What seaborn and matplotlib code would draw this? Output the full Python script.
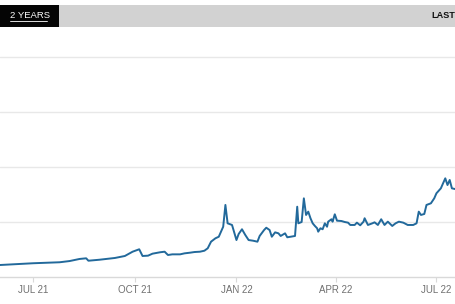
import numpy as np
import pandas as pd
import matplotlib
matplotlib.use("Agg")
import matplotlib.pyplot as plt
import seaborn as sns
from matplotlib.patches import Rectangle
from matplotlib.lines import Line2D

# ---- data ----
dates = [
    "2021-06-01", "2021-07-01", "2021-07-25", "2021-08-03", "2021-08-12", "2021-08-18",
    "2021-08-20", "2021-08-30", "2021-09-13", "2021-09-22", "2021-09-29", "2021-10-05",
    "2021-10-08", "2021-10-13", "2021-10-17", "2021-10-24", "2021-10-28", "2021-10-31",
    "2021-11-04", "2021-11-11", "2021-11-15", "2021-11-20", "2021-11-24", "2021-11-29",
    "2021-12-03", "2021-12-06", "2021-12-09", "2021-12-13", "2021-12-16", "2021-12-20",
    "2021-12-22", "2021-12-24", "2021-12-28", "2022-01-01", "2022-01-03", "2022-01-06",
    "2022-01-09", "2022-01-12", "2022-01-16", "2022-01-20", "2022-01-22", "2022-01-26",
    "2022-01-28", "2022-01-31", "2022-02-02", "2022-02-05", "2022-02-08", "2022-02-10",
    "2022-02-14", "2022-02-16", "2022-02-19", "2022-02-23", "2022-02-25", "2022-02-26",
    "2022-03-01", "2022-03-03", "2022-03-05", "2022-03-07", "2022-03-09", "2022-03-11",
    "2022-03-13", "2022-03-15", "2022-03-16", "2022-03-18", "2022-03-20", "2022-03-22",
    "2022-03-24", "2022-03-25", "2022-03-28", "2022-03-29", "2022-03-31", "2022-04-02",
    "2022-04-06", "2022-04-09", "2022-04-12", "2022-04-14", "2022-04-18", "2022-04-20",
    "2022-04-23", "2022-04-26", "2022-04-27", "2022-04-30", "2022-05-04", "2022-05-06",
    "2022-05-09", "2022-05-12", "2022-05-15", "2022-05-18", "2022-05-22", "2022-05-25",
    "2022-05-28", "2022-06-01", "2022-06-05", "2022-06-10", "2022-06-13", "2022-06-15",
    "2022-06-17", "2022-06-20", "2022-06-22", "2022-06-26", "2022-06-29", "2022-07-01",
    "2022-07-05", "2022-07-07", "2022-07-09", "2022-07-11", "2022-07-13", "2022-07-15",
    "2022-07-19",
]
values = [
    10.9, 12.5, 13.4, 14.5, 16.4, 17.0,
    14.8, 15.7, 17.3, 19.1, 23.0, 25.2,
    19.1, 19.4, 21.2, 22.5, 23.0, 20.0,
    20.6, 20.6, 21.5, 22.1, 22.7, 23.0,
    23.9, 26.1, 32.1, 35.2, 36.6, 45.7,
    65.5, 48.8, 47.3, 33.6, 39.1, 43.4,
    38.2, 33.6, 33.0, 32.1, 37.3, 42.7,
    44.8, 42.7, 36.6, 40.6, 39.7, 37.3,
    39.7, 36.1, 36.6, 37.3, 63.9, 48.8,
    50.0, 71.5, 56.4, 59.4, 53.4, 48.8,
    46.4, 44.3, 41.2, 44.3, 43.4, 48.8,
    45.7, 50.3, 52.5, 50.3, 57.0, 51.2,
    50.9, 50.0, 49.4, 47.3, 47.3, 49.4,
    47.0, 50.3, 53.4, 47.3, 48.8, 49.7,
    47.3, 52.5, 47.3, 50.3, 46.4, 48.8,
    50.3, 49.4, 47.3, 47.3, 48.8, 59.4,
    56.4, 57.3, 65.5, 67.0, 71.5, 76.1,
    80.6, 85.2, 89.7, 83.6, 88.2, 80.6,
    79.7,
]
tick_dates = ["2021-07-01", "2021-10-01", "2022-01-01", "2022-04-01", "2022-07-01"]
tick_labels = ["JUL 21", "OCT 21", "JAN 22", "APR 22", "JUL 22"]
grid_values = [0, 50, 100, 150, 200]
range_label = "2 YEARS"
right_label = "LAST"

df = pd.DataFrame({"date": pd.to_datetime(dates), "value": values})

sns.set_theme(style="white")
plt.rcParams["font.family"] = ["Liberation Sans", "DejaVu Sans"]

W, H = 456, 304
fig = plt.figure(figsize=(W / 100, H / 100), dpi=100)
fig.patch.set_facecolor("white")

# main axes: bottom at y=277px, top at y=45px
ax = fig.add_axes([0, (H - 277) / H, 1, (277 - 45) / H])
ax.set_facecolor("white")
sns.lineplot(data=df, x="date", y="value", ax=ax, color="#22699b",
             linewidth=1.4, zorder=3)

x0 = pd.Timestamp("2021-06-01")
ax.set_xlim(x0, x0 + pd.Timedelta(days=412.7))
ax.set_ylim(0, 210.9)

for g in grid_values[1:]:
    ax.axhline(g, color="#e8e8e8", linewidth=1.0, zorder=1)

for s in ["top", "right", "left"]:
    ax.spines[s].set_visible(False)
ax.spines["bottom"].set_color("#d9d9d9")
ax.spines["bottom"].set_linewidth(1.0)

ax.set_yticks([])
ax.set_xticks(pd.to_datetime(tick_dates))
ax.set_xticklabels(tick_labels)
ax.tick_params(axis="x", bottom=True, length=3.5, width=0.8, color="#d9d9d9",
               labelsize=7, labelcolor="#707070", pad=2.5)
ax.set_xlabel("")
ax.set_ylabel("")

# top bar
bar_y0 = (H - 27) / H
bar_h = 22 / H
fig.patches.append(Rectangle((59 / W, bar_y0), 1 - 59 / W, bar_h,
                             transform=fig.transFigure, facecolor="#d2d2d2",
                             edgecolor="none", zorder=0))
fig.patches.append(Rectangle((0, bar_y0), 59 / W, bar_h,
                             transform=fig.transFigure, facecolor="#050505",
                             edgecolor="none", zorder=0))
fig.text(10 / W, (H - 16) / H, range_label, color="white", fontsize=6.8,
         ha="left", va="center")
fig.lines.append(Line2D([10 / W, 47 / W], [(H - 20.5) / H, (H - 20.5) / H],
                        transform=fig.transFigure, color="white", linewidth=0.6))
fig.text(455 / W, (H - 16) / H, right_label, color="#111111", fontsize=6.6,
         fontweight="bold", ha="right", va="center")

fig.savefig("out.png", dpi=100)
